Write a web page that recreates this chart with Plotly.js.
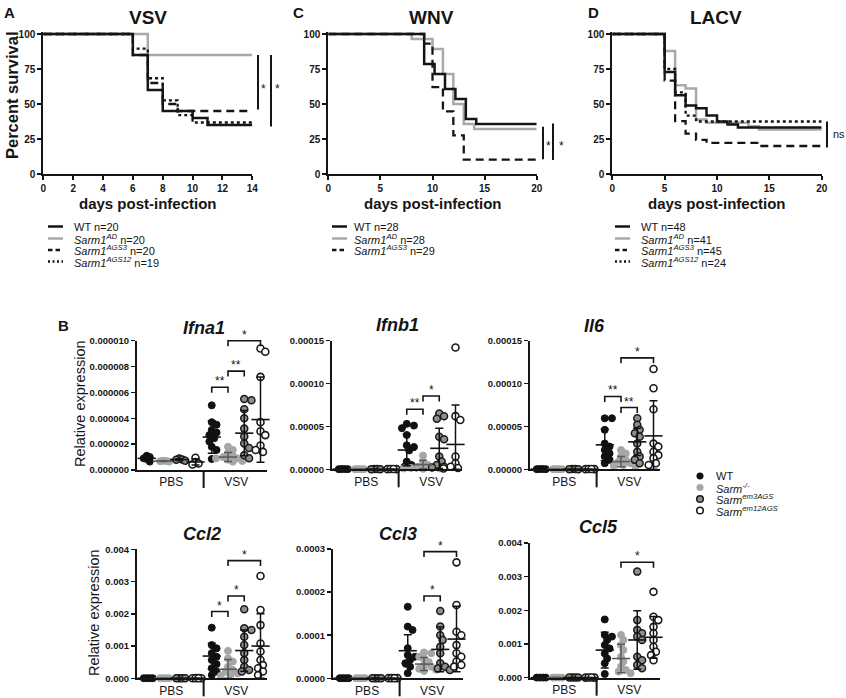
<!DOCTYPE html>
<html><head><meta charset="utf-8">
<script src="https://cdn.plot.ly/plotly-3.0.1.min.js"></script>
<style>html,body{margin:0;padding:0;background:#fff}#chart{width:846px;height:698px}</style>
</head><body><div id="chart"></div>
<script>
// ================= DATA =================
// Survival (percent surviving vs day)
const survTicks = [0, 25, 50, 75, 100];
// A: VSV
const vsvWT_days = [0, 6, 7, 8, 10, 11, 14];
const vsvWT_pct = [100, 85, 60, 45, 40, 35, 35];
const vsvAD_days = [0, 7, 14];
const vsvAD_pct = [100, 85, 85];
const vsvAGS3_days = [0, 6, 7, 8, 9, 14];
const vsvAGS3_pct = [100, 85, 65, 50, 45, 45];
const vsvAGS12_days = [0, 6, 7, 8, 9, 10, 14];
const vsvAGS12_pct = [100, 89.5, 68.4, 52.6, 42.1, 36.8, 36.8];
const vsvLegend = ['WT n=20', '<i>Sarm1<sup>AD</sup></i> n=20', '<i>Sarm1<sup>AGS3</sup></i> n=20', '<i>Sarm1<sup>AGS12</sup></i> n=19'];
const vsvSig = [[85, 46, '*'], [85, 34, '*']];
// C: WNV
const wnvWT_days = [0, 9.2, 10.2, 11.2, 12.2, 13.2, 14.2, 20];
const wnvWT_pct = [100, 78.6, 71.4, 60.7, 53.6, 39.3, 35.7, 35.7];
const wnvAD_days = [0, 8, 10, 11, 12, 13, 14, 20];
const wnvAD_pct = [100, 96.4, 89.3, 71.4, 50, 35.7, 32.1, 32.1];
const wnvAGS3_days = [0, 9.2, 10, 11, 12, 13, 20];
const wnvAGS3_pct = [100, 93.1, 62.1, 44.8, 27.6, 10.3, 10.3];
const wnvLegend = ['WT n=28', '<i>Sarm1<sup>AD</sup></i> n=28', '<i>Sarm1<sup>AGS3</sup></i> n=29'];
const wnvSig = [[33.8, 10.5, '*'], [36, 10, '*']];
// D: LACV
const lacWT_days = [0, 5, 6, 7, 8, 9, 10, 11, 12, 20];
const lacWT_pct = [100, 72.9, 56.3, 49, 47, 41.7, 37.5, 35.4, 33.3, 33.3];
const lacAD_days = [0, 5, 6, 7, 8, 9, 13, 14, 20];
const lacAD_pct = [100, 87.8, 63.4, 61, 39, 36.6, 34.1, 31.7, 31.7];
const lacAGS3_days = [0, 5, 6, 7, 8, 9, 14, 20];
const lacAGS3_pct = [100, 66.7, 37.8, 28.9, 24.4, 22.2, 20, 20];
const lacAGS12_days = [0, 5, 6, 7, 8, 20];
const lacAGS12_pct = [100, 75, 58.3, 41.7, 37.5, 37.5];
const lacLegend = ['WT n=48', '<i>Sarm1<sup>AD</sup></i> n=41', '<i>Sarm1<sup>AGS3</sup></i> n=45', '<i>Sarm1<sup>AGS12</sup></i> n=24'];
const lacSig = [[37.5, 19, 'ns']];

// B: relative expression; groups WT, Sarm-/-, em3AGS, em12AGS; conditions PBS | VSV
const condLabels = ['PBS', 'VSV'];
const exprLegend = ['WT', '<i>Sarm<sup>-/-</sup></i>', '<i>Sarm<sup>em3AGS</sup></i>', '<i>Sarm<sup>em12AGS</sup></i>'];

const ifna1Ticks = [0, 2e-6, 4e-6, 6e-6, 8e-6, 1e-5];
const ifna1PBS = [[1.1e-6, 1.0e-6, 0.9e-6, 0.85e-6, 0.65e-6], [0.72e-6, 0.7e-6, 0.68e-6, 0.65e-6], [0.88e-6, 0.82e-6, 0.8e-6, 0.72e-6], [0.95e-6, 0.62e-6, 0.5e-6, 0.42e-6]];
const ifna1VSV = [[5.0e-6, 3.7e-6, 3.5e-6, 3.1e-6, 2.9e-6, 2.7e-6, 2.45e-6, 2.2e-6, 1.8e-6, 1.55e-6, 0.85e-6], [1.8e-6, 1.55e-6, 1.3e-6, 1.1e-6, 1.0e-6, 0.9e-6, 0.8e-6, 0.7e-6, 0.64e-6, 0.9e-6], [5.5e-6, 5.4e-6, 4.7e-6, 4.0e-6, 3.2e-6, 2.6e-6, 2.05e-6, 1.7e-6, 1.15e-6, 0.9e-6], [9.4e-6, 9.15e-6, 7.2e-6, 3.7e-6, 3.0e-6, 2.7e-6, 1.9e-6, 1.8e-6, 1.55e-6, 1.4e-6]];
const ifna1Mean = [0.9e-6, 0.69e-6, 0.8e-6, 0.62e-6, 2.55e-6, 1.0e-6, 2.85e-6, 3.9e-6];
const ifna1SD = [0.17e-6, 0.03e-6, 0.07e-6, 0.23e-6, 1.25e-6, 0.35e-6, 1.75e-6, 3.3e-6];
const ifna1Sig = [[4, 5, 6.4e-6, '**'], [5, 6, 7.65e-6, '**'], [5, 7, 1.0e-5, '*']];

const ifnb1Ticks = [0, 5e-5, 1e-4, 1.5e-4];
const ifnb1PBS = [[3e-7, 2e-7, 3e-7, 2e-7], [2e-7, 3e-7, 2e-7, 2e-7], [3e-7, 2e-7, 3e-7, 2e-7], [2e-7, 3e-7, 2e-7, 3e-7]];
const ifnb1VSV = [[5.3e-5, 5.1e-5, 4.8e-5, 4.0e-5, 2.8e-5, 2.6e-5, 2.2e-5, 0.9e-5, 0.5e-5, 0.3e-5, 0.2e-5], [1.6e-5, 0.8e-5, 0.5e-5, 0.3e-5, 0.2e-5, 0.15e-5, 0.1e-5, 0.1e-5, 0.05e-5], [6.5e-5, 6.2e-5, 5.9e-5, 3.8e-5, 3.5e-5, 1.5e-5, 0.9e-5, 0.5e-5, 0.3e-5, 0.2e-5], [1.42e-4, 6.2e-5, 5.75e-5, 1.5e-5, 0.7e-5, 0.5e-5, 0.3e-5, 0.2e-5, 0.15e-5, 0.1e-5]];
const ifnb1Mean = [2e-7, 2e-7, 2e-7, 2e-7, 2.25e-5, 0.55e-5, 2.45e-5, 2.9e-5];
const ifnb1SD = [0, 0, 0, 0, 1.85e-5, 0.5e-5, 2.35e-5, 4.6e-5];
const ifnb1Sig = [[4, 5, 7.0e-5, '**'], [5, 6, 8.55e-5, '*']];

const il6Ticks = [0, 5e-5, 1e-4, 1.5e-4];
const il6PBS = [[3e-7, 2e-7, 3e-7, 2e-7], [2e-7, 3e-7, 2e-7, 2e-7], [3e-7, 2e-7, 3e-7, 2e-7], [2e-7, 3e-7, 2e-7, 3e-7]];
const il6VSV = [[5.95e-5, 5.95e-5, 4.6e-5, 3.0e-5, 2.65e-5, 2.25e-5, 1.85e-5, 1.5e-5, 1.1e-5, 0.7e-5], [2.25e-5, 1.85e-5, 1.5e-5, 1.1e-5, 0.9e-5, 0.7e-5, 0.5e-5, 0.4e-5, 0.3e-5], [5.95e-5, 5.2e-5, 4.6e-5, 4.2e-5, 3.8e-5, 3.0e-5, 2.05e-5, 1.5e-5, 1.1e-5, 0.7e-5], [1.17e-4, 9.45e-5, 7.0e-5, 3.0e-5, 2.65e-5, 2.05e-5, 1.65e-5, 1.3e-5, 0.7e-5, 0.5e-5]];
const il6Mean = [2e-7, 2e-7, 2e-7, 2e-7, 2.85e-5, 0.9e-5, 3.2e-5, 3.9e-5];
const il6SD = [0, 0, 0, 0, 1.85e-5, 0.6e-5, 1.6e-5, 4.1e-5];
const il6Sig = [[4, 5, 8.5e-5, '**'], [5, 6, 7.2e-5, '**'], [5, 7, 1.3e-4, '*']];

const ccl2Ticks = [0, 0.001, 0.002, 0.003, 0.004];
const ccl2PBS = [[4e-6, 3e-6, 4e-6, 3e-6], [3e-6, 4e-6, 3e-6, 3e-6], [4e-6, 3e-6, 4e-6, 3e-6], [3e-6, 4e-6, 3e-6, 4e-6]];
const ccl2VSV = [[1.57e-3, 1.03e-3, 0.93e-3, 0.78e-3, 0.67e-3, 0.57e-3, 0.44e-3, 0.31e-3, 0.21e-3, 0.1e-3], [0.85e-3, 0.62e-3, 0.52e-3, 0.36e-3, 0.26e-3, 0.21e-3, 0.15e-3, 0.1e-3, 0.08e-3], [2.14e-3, 1.55e-3, 1.5e-3, 1.29e-3, 1.03e-3, 0.78e-3, 0.57e-3, 0.36e-3, 0.26e-3, 0.21e-3], [3.17e-3, 2.12e-3, 1.65e-3, 1.08e-3, 0.83e-3, 0.57e-3, 0.41e-3, 0.31e-3, 0.21e-3, 0.1e-3]];
const ccl2Mean = [3e-6, 3e-6, 3e-6, 3e-6, 0.69e-3, 0.28e-3, 0.86e-3, 1.0e-3];
const ccl2SD = [0, 0, 0, 0, 0.4e-3, 0.3e-3, 0.64e-3, 1.0e-3];
const ccl2Sig = [[4, 5, 2.07e-3, '*'], [5, 6, 2.55e-3, '*'], [5, 7, 3.65e-3, '*']];

const ccl3Ticks = [0, 1e-4, 2e-4, 3e-4];
const ccl3PBS = [[4e-7, 3e-7, 4e-7, 3e-7], [3e-7, 4e-7, 3e-7, 3e-7], [4e-7, 3e-7, 4e-7, 3e-7], [3e-7, 4e-7, 3e-7, 4e-7]];
const ccl3VSV = [[1.66e-4, 1.2e-4, 1.12e-4, 0.7e-4, 0.54e-4, 0.5e-4, 0.43e-4, 0.35e-4, 0.27e-4, 0.12e-4], [0.6e-4, 0.58e-4, 0.5e-4, 0.45e-4, 0.38e-4, 0.3e-4, 0.27e-4, 0.22e-4, 0.2e-4, 0.17e-4], [1.56e-4, 1.2e-4, 1.0e-4, 0.89e-4, 0.73e-4, 0.58e-4, 0.35e-4, 0.27e-4, 0.23e-4, 0.19e-4], [2.69e-4, 1.7e-4, 1.08e-4, 1.0e-4, 0.77e-4, 0.58e-4, 0.5e-4, 0.39e-4, 0.31e-4, 0.27e-4]];
const ccl3Mean = [3e-7, 3e-7, 3e-7, 3e-7, 0.64e-4, 0.33e-4, 0.67e-4, 0.91e-4];
const ccl3SD = [0, 0, 0, 0, 0.37e-4, 0.15e-4, 0.52e-4, 0.76e-4];
const ccl3Sig = [[5, 6, 1.91e-4, '*'], [5, 7, 2.94e-4, '*']];

const ccl5Ticks = [0, 0.001, 0.002, 0.003, 0.004];
const ccl5PBS = [[4e-6, 3e-6, 4e-6, 3e-6], [3e-6, 4e-6, 3e-6, 3e-6], [4e-6, 3e-6, 4e-6, 3e-6], [3e-6, 4e-6, 3e-6, 4e-6]];
const ccl5VSV = [[1.73e-3, 1.27e-3, 1.22e-3, 1.12e-3, 0.97e-3, 0.87e-3, 0.72e-3, 0.57e-3, 0.43e-3, 0.11e-3], [1.27e-3, 1.12e-3, 0.97e-3, 0.82e-3, 0.62e-3, 0.48e-3, 0.33e-3, 0.23e-3, 0.18e-3, 0.13e-3], [3.15e-3, 1.71e-3, 1.42e-3, 1.32e-3, 1.22e-3, 1.12e-3, 0.62e-3, 0.52e-3, 0.38e-3, 0.28e-3], [2.55e-3, 1.81e-3, 1.71e-3, 1.51e-3, 1.32e-3, 1.12e-3, 0.92e-3, 0.77e-3, 0.67e-3, 0.52e-3]];
const ccl5Mean = [3e-6, 3e-6, 3e-6, 3e-6, 0.82e-3, 0.57e-3, 1.12e-3, 1.2e-3];
const ccl5SD = [0, 0, 0, 0, 0.53e-3, 0.42e-3, 0.87e-3, 0.62e-3];
const ccl5Sig = [[5, 7, 3.43e-3, '*']];

// ================= DRAWING =================
const W = 846, H = 698;
const F = 'Liberation Sans, Arial, Helvetica, sans-serif';
const INK = '#151515';
const px = v => v / W;
const py = v => 1 - v / H;

const traces = [];
const annotations = [];
const shapes = [];
const layout = {
  width: W, height: H, margin: {l: 0, r: 0, t: 0, b: 0},
  paper_bgcolor: '#ffffff', plot_bgcolor: 'rgba(0,0,0,0)',
  showlegend: false, font: {family: F, color: INK}, hovermode: false
};

function txt(text, x, y, opts) {
  annotations.push(Object.assign({
    text: text, x: x, y: y, xref: 'paper', yref: 'paper', showarrow: false,
    xanchor: 'center', yanchor: 'middle', font: {family: F, size: 11, color: INK}
  }, opts || {}));
}

// ---------- survival panels ----------
const styles = {
  WT: {color: INK, width: 2.5, dash: 'solid'},
  AD: {color: '#a9a9a9', width: 2.5, dash: 'solid'},
  AGS3: {color: INK, width: 2.3, dash: '8px,5px'},
  AGS12: {color: INK, width: 2.3, dash: 'dot'}
};
const survPanels = [
  {letter: 'A', title: 'VSV', xl: 43.3, xr: 252.3, xmax: 14, dtick: 2,
   series: [['AD', vsvAD_days, vsvAD_pct], ['WT', vsvWT_days, vsvWT_pct], ['AGS3', vsvAGS3_days, vsvAGS3_pct], ['AGS12', vsvAGS12_days, vsvAGS12_pct]],
   legend: vsvLegend, legendKeys: ['WT', 'AD', 'AGS3', 'AGS12'], legX: [48, 63, 72],
   sig: vsvSig, sigX: [258, 271], sigLabX: [263, 277], sigLabY: 61, letterX: 9, titleX: 148, ytitle: true},
  {letter: 'C', title: 'WNV', xl: 328.3, xr: 536.7, xmax: 20, dtick: 5,
   series: [['AD', wnvAD_days, wnvAD_pct], ['WT', wnvWT_days, wnvWT_pct], ['AGS3', wnvAGS3_days, wnvAGS3_pct]],
   legend: wnvLegend, legendKeys: ['WT', 'AD', 'AGS3'], legX: [332, 347, 352],
   sig: wnvSig, sigX: [543, 553], sigLabX: [548, 561], sigLabY: 20, letterX: 298, titleX: 432, ytitle: false},
  {letter: 'D', title: 'LACV', xl: 612.3, xr: 821.7, xmax: 20, dtick: 5,
   series: [['AD', lacAD_days, lacAD_pct], ['WT', lacWT_days, lacWT_pct], ['AGS3', lacAGS3_days, lacAGS3_pct], ['AGS12', lacAGS12_days, lacAGS12_pct]],
   legend: lacLegend, legendKeys: ['WT', 'AD', 'AGS3', 'AGS12'], legX: [615, 630, 639],
   sig: lacSig, sigX: [827], sigLabX: [830.5], sigLabY: 29, letterX: 593, titleX: 716, ytitle: false}
];
const survTop = 31.9, survBot = 174; // y range [0,101.5]
const legRows = [226.5, 238.5, 250, 261.5];

survPanels.forEach((p, k) => {
  const n = k + 1;
  const xa = n === 1 ? 'x' : 'x' + n, ya = n === 1 ? 'y' : 'y' + n;
  layout[n === 1 ? 'xaxis' : 'xaxis' + n] = {
    domain: [px(p.xl), px(p.xr)], range: [0, p.xmax], anchor: ya,
    tickmode: 'linear', tick0: 0, dtick: p.dtick,
    showline: true, linewidth: 2, linecolor: INK, ticks: 'outside', ticklen: 4, tickwidth: 2, tickcolor: INK,
    showgrid: false, zeroline: false, fixedrange: true,
    tickfont: {family: F, size: 10, weight: 'bold', color: INK}
  };
  layout[n === 1 ? 'yaxis' : 'yaxis' + n] = {
    domain: [py(survBot), py(survTop)], range: [0, 101.5], anchor: xa,
    tickmode: 'array', tickvals: survTicks,
    showline: true, linewidth: 2, linecolor: INK, ticks: 'outside', ticklen: 4, tickwidth: 2, tickcolor: INK,
    showgrid: false, zeroline: false, fixedrange: true,
    tickfont: {family: F, size: 10, weight: 'bold', color: INK}
  };
  p.series.forEach(s => {
    const st = styles[s[0]];
    traces.push({type: 'scatter', mode: 'lines', x: s[1], y: s[2], xaxis: xa, yaxis: ya,
      line: {shape: 'hv', color: st.color, width: st.width, dash: st.dash}, hoverinfo: 'skip'});
  });
  // titles
  txt('<b>' + p.letter + '</b>', px(p.letterX), py(13), {font: {family: F, size: 15, color: INK}});
  txt('<b>' + p.title + '</b>', px(p.titleX), py(18), {font: {family: F, size: 19, color: INK}});
  txt('<b>days post-infection</b>', px((p.xl + p.xr) / 2), py(203.5), {font: {family: F, size: 15, color: INK}});
  if (p.ytitle) txt('<b>Percent survival</b>', px(12), py(95), {textangle: -90, font: {family: F, size: 16.5, color: INK}});
  // significance bars
  p.sig.forEach((s, i) => {
    shapes.push({type: 'line', xref: 'paper', yref: ya, x0: px(p.sigX[i]), x1: px(p.sigX[i]), y0: s[0], y1: s[1],
      line: {color: INK, width: 2}});
    txt(s[2], px(p.sigLabX[i]), s[2] === 'ns' ? (s[0] + s[1]) / 2 : p.sigLabY,
      {yref: ya, xanchor: s[2] === 'ns' ? 'left' : 'center', font: {family: F, size: s[2] === 'ns' ? 11 : 12, color: INK}});
  });
  // legend
  p.legend.forEach((lab, i) => {
    const st = styles[p.legendKeys[i]];
    shapes.push({type: 'line', xref: 'paper', yref: 'paper', x0: px(p.legX[0]), x1: px(p.legX[1]), y0: py(legRows[i]), y1: py(legRows[i]),
      line: {color: st.color, width: st.width, dash: st.dash === 'dot' ? '2px,2.5px' : (st.dash === 'solid' ? 'solid' : '4.5px,3px')}});
    txt(lab, px(p.legX[2]), py(legRows[i]), {xanchor: 'left', font: {family: F, size: 11, color: INK}});
  });
});

// ---------- expression panels ----------
const grpStyle = [
  {fill: '#111111', line: '#111111', lw: 1, bar: '#111111'},
  {fill: '#a6a6a6', line: '#a6a6a6', lw: 1, bar: '#5a5a5a'},
  {fill: '#8f8f8f', line: '#1a1a1a', lw: 1.5, bar: '#111111'},
  {fill: '#ffffff', line: '#1a1a1a', lw: 1.6, bar: '#111111'}
];
const exprPanels = [
  {name: 'Ifna1', pbs: ifna1PBS, vsv: ifna1VSV, mean: ifna1Mean, sd: ifna1SD, sig: ifna1Sig, ticks: ifna1Ticks, fmt: '.6f', x0: 137, yT: 340.7, yB: 470, tX: 204, tY: 328, ylab: [80, 404]},
  {name: 'Ifnb1', pbs: ifnb1PBS, vsv: ifnb1VSV, mean: ifnb1Mean, sd: ifnb1SD, sig: ifnb1Sig, ticks: ifnb1Ticks, fmt: '.5f', x0: 332, yT: 340.7, yB: 469.3, tX: 397, tY: 325},
  {name: 'Il6', pbs: il6PBS, vsv: il6VSV, mean: il6Mean, sd: il6SD, sig: il6Sig, ticks: il6Ticks, fmt: '.5f', x0: 530, yT: 340.7, yB: 469.3, tX: 594, tY: 326},
  {name: 'Ccl2', pbs: ccl2PBS, vsv: ccl2VSV, mean: ccl2Mean, sd: ccl2SD, sig: ccl2Sig, ticks: ccl2Ticks, fmt: '.3f', x0: 137, yT: 549.3, yB: 678.3, tX: 202, tY: 534, ylab: [94, 613]},
  {name: 'Ccl3', pbs: ccl3PBS, vsv: ccl3VSV, mean: ccl3Mean, sd: ccl3SD, sig: ccl3Sig, ticks: ccl3Ticks, fmt: '.4f', x0: 333, yT: 549, yB: 678.3, tX: 398, tY: 534},
  {name: 'Ccl5', pbs: ccl5PBS, vsv: ccl5VSV, mean: ccl5Mean, sd: ccl5SD, sig: ccl5Sig, ticks: ccl5Ticks, fmt: '.3f', x0: 530, yT: 543, yB: 677.7, tX: 598, tY: 527}
];
const XW = 130, XR = [-0.6, 7.4];
const pxPerCat = XW / (XR[1] - XR[0]);

function swarm(vals, pxPerY, minD, step) {
  const placed = [], res = new Array(vals.length);
  const order = vals.map((v, i) => i).sort((a, b) => vals[b] - vals[a]);
  const cands = [0];
  for (let k = 1; k < 10; k++) cands.push(k * step, -k * step);
  order.forEach(i => {
    const y = vals[i] * pxPerY;
    let chosen = cands[cands.length - 1];
    for (const c of cands) {
      if (placed.every(q => Math.hypot(q[0] - c, q[1] - y) >= minD)) { chosen = c; break; }
    }
    placed.push([chosen, y]);
    res[i] = chosen;
  });
  return res;
}

txt('<b>B</b>', px(63), py(325), {font: {family: F, size: 15, color: INK}});

exprPanels.forEach((p, k) => {
  const n = k + 4;
  const xa = 'x' + n, ya = 'y' + n;
  const top = p.ticks[p.ticks.length - 1];
  const pxPerY = (p.yB - p.yT) / top;
  layout['xaxis' + n] = {
    domain: [px(p.x0), px(p.x0 + XW)], range: XR, anchor: ya,
    tickmode: 'array', tickvals: [1.5, 5.5], ticktext: condLabels, ticks: '',
    showline: true, linewidth: 2, linecolor: INK, showgrid: false, zeroline: false, fixedrange: true,
    tickfont: {family: F, size: 12, color: INK}
  };
  layout['yaxis' + n] = {
    domain: [py(p.yB), py(p.yT)], range: [0, top], anchor: xa,
    tickmode: 'array', tickvals: p.ticks, tickformat: p.fmt,
    showline: true, linewidth: 2, linecolor: INK, ticks: 'outside', ticklen: 4, tickwidth: 1.5, tickcolor: INK,
    showgrid: false, zeroline: false, fixedrange: true,
    tickfont: {family: F, size: 9.5, weight: 'bold', color: INK}
  };
  // separator between PBS and VSV
  shapes.push({type: 'line', xref: xa, yref: 'paper', x0: 3.5, x1: 3.5, y0: py(p.yB), y1: py(p.yB + 18), line: {color: INK, width: 2}});
  // dots
  [p.pbs, p.vsv].forEach((cond, ci) => {
    cond.forEach((vals, g) => {
      const idx = ci * 4 + g;
      const offs = ci === 0 ? swarm(vals, pxPerY, 3, 1.5) : swarm(vals, pxPerY, 5.2, 2.4);
      const st = grpStyle[g];
      traces.push({type: 'scatter', mode: 'markers', xaxis: xa, yaxis: ya, cliponaxis: false,
        x: vals.map((v, i) => idx + offs[i] / pxPerCat), y: vals,
        marker: {size: 7, color: st.fill, line: {color: st.line, width: st.lw}}, hoverinfo: 'skip'});
    });
  });
  // mean +- SD
  for (let g = 0; g < 4; g++) {
    const st = grpStyle[g];
    const xs = [g, g + 4], ms = [p.mean[g], p.mean[g + 4]], sds = [p.sd[g], p.sd[g + 4]];
    traces.push({type: 'scatter', mode: 'markers', xaxis: xa, yaxis: ya, cliponaxis: false,
      x: xs, y: ms,
      marker: {symbol: 'line-ew', size: 13, color: st.bar, line: {color: st.bar, width: 1.6}},
      error_y: {type: 'data', symmetric: false, array: sds, arrayminus: sds.map((s, i) => Math.min(s, ms[i])),
        width: 4, thickness: 1.5, color: st.bar}, hoverinfo: 'skip'});
  }
  // significance brackets
  p.sig.forEach(s => {
    const yb = py(p.yB - s[2] * pxPerY);
    const yl = py(p.yB - s[2] * pxPerY + 5.5);
    shapes.push({type: 'path', xref: xa, yref: 'paper',
      path: `M ${s[0]},${yl} L ${s[0]},${yb} L ${s[1]},${yb} L ${s[1]},${yl}`,
      line: {color: INK, width: 1.6}});
    annotations.push({text: s[3], x: (s[0] + s[1]) / 2, y: yb, xref: xa, yref: 'paper', showarrow: false,
      xanchor: 'center', yanchor: 'bottom', yshift: -3, font: {family: F, size: 12, color: INK}});
  });
  txt('<b><i>' + p.name + '</i></b>', px(p.tX), py(p.tY), {font: {family: F, size: 18, color: INK}});
  if (p.ylab) txt('Relative expression', px(p.ylab[0]), py(p.ylab[1]), {textangle: -90, font: {family: F, size: 14.5, color: INK}});
});

// expression legend
const bLegRows = [476, 487.5, 499, 510.5];
exprLegend.forEach((lab, g) => {
  const st = grpStyle[g];
  shapes.push({type: 'circle', xref: 'paper', yref: 'paper', xsizemode: 'pixel', ysizemode: 'pixel',
    xanchor: px(700), yanchor: py(bLegRows[g]), x0: -3.3, x1: 3.3, y0: -3.3, y1: 3.3,
    fillcolor: st.fill, line: {color: st.line, width: g >= 2 ? 1.5 : 0.5}});
  txt(lab, px(714), py(bLegRows[g]), {xanchor: 'left', font: {family: F, size: 11, color: INK}});
});

layout.annotations = annotations;
layout.shapes = shapes;
Plotly.newPlot('chart', traces, layout, {staticPlot: true, displayModeBar: false});
</script>
</body></html>
